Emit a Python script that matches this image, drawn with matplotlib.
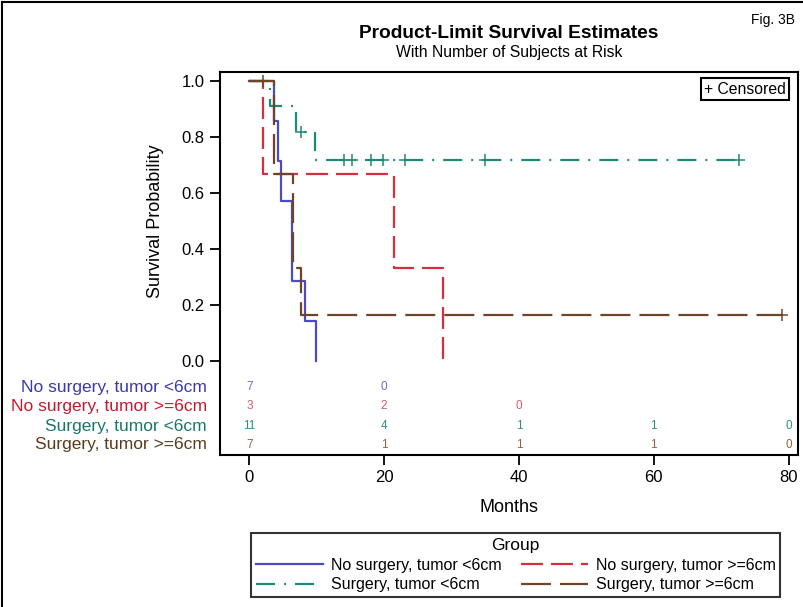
import numpy as np
import matplotlib.pyplot as plt
from matplotlib.lines import Line2D

plt.rcParams['font.family'] = ['Liberation Sans', 'DejaVu Sans']
plt.rcParams['lines.scale_dashes'] = False

W, H = 804, 607

# survival steps (months, survival after step)
blue_t = [0, 3.7, 4.2, 4.7, 6.4, 8.3, 9.85]
blue_s = [1.0, 0.857, 0.714, 0.571, 0.286, 0.143, 0.0]
blue_cens = []

red_t = [0, 2.1, 21.4, 28.7]
red_s = [1.0, 0.667, 0.333, 0.0]
red_cens = []

green_t = [0, 3.1, 6.9, 9.75, 72.6]
green_s = [1.0, 0.909, 0.818, 0.716, 0.716]
green_cens = [7.7, 14.0, 15.3, 18.0, 19.8, 23.1, 34.9, 72.6]

brown_t = [0, 3.6, 6.5, 7.7, 79.0]
brown_s = [1.0, 0.667, 0.333, 0.167, 0.167]
brown_cens = [2.1, 79.0]

groups = ['No surgery, tumor <6cm', 'No surgery, tumor >=6cm',
          'Surgery, tumor <6cm', 'Surgery, tumor >=6cm']
risk_times = [0, 20, 40, 60, 80]
risk_blue = [7, 0, None, None, None]
risk_red = [3, 2, 0, None, None]
risk_green = [11, 4, 1, 1, 0]
risk_brown = [7, 1, 1, 1, 0]

line_cols = ['#4b4bc4', '#d3303f', '#1d8a78', '#6e4526']
label_cols = ['#3a3aa8', '#c8182e', '#17786a', '#5c3a1c']
num_cols = ['#6a6ad0', '#dc5a64', '#2e8f80', '#8a6445']
styles = ['-', (0, (15.8, 5.8)), (0, (13.7, 6.5, 1.4, 6.5)), (0, (21.6, 6.5))]

fig = plt.figure(figsize=(W / 100, H / 100), dpi=100)
ax = fig.add_axes([220 / W, 1 - 455 / H, (798 - 220) / W, (455 - 72) / H])

ax.set_xlim(-4.35, 81.4)
ax.set_ylim(-0.333, 1.031)

curves = [(blue_t, blue_s, blue_cens), (red_t, red_s, red_cens),
          (green_t, green_s, green_cens), (brown_t, brown_s, brown_cens)]
for k, (t, s, c) in enumerate(curves):
    ax.step(t, s, where='post', color=line_cols[k], linestyle=styles[k], lw=1.6)
    if c:
        cy = [s[max(i for i in range(len(t)) if t[i] <= ci)] for ci in c]
        ax.plot(c, cy, '+', color=line_cols[k], ms=8, mew=1.1, ls='none')

# number at risk table
risks = [risk_blue, risk_red, risk_green, risk_brown]
row_y = [-0.091, -0.160, -0.231, -0.296]
for k in range(4):
    for t, n in zip(risk_times, risks[k]):
        if n is not None:
            ax.text(t, row_y[k], str(n), color=num_cols[k], fontsize=8.5,
                    ha='center', va='center')
    ax.text(207 / W, (1 - 455 / H) + (row_y[k] + 0.333) / 1.364 * (383 / H), groups[k],
            transform=fig.transFigure, color=label_cols[k], fontsize=12.5,
            ha='right', va='center')

ax.set_yticks([0, 0.2, 0.4, 0.6, 0.8, 1.0])
ax.set_yticklabels(['0.0', '0.2', '0.4', '0.6', '0.8', '1.0'])
ax.set_xticks(risk_times)
ax.tick_params(direction='out', length=7, width=1.3, labelsize=12, pad=4)
for sp in ax.spines.values():
    sp.set_linewidth(1.5)

fig.text(155 / W, 1 - 221 / H, 'Survival Probability', rotation=90,
         fontsize=13, ha='center', va='center')
fig.text(509 / W, 1 - 508 / H, 'Months', fontsize=13, ha='center', va='center')

fig.text(509 / W, 1 - 33 / H, 'Product-Limit Survival Estimates',
         fontsize=13.8, fontweight='bold', ha='center', va='center')
fig.text(509 / W, 1 - 53 / H, 'With Number of Subjects at Risk',
         fontsize=11.3, ha='center', va='center')
fig.text(795 / W, 1 - 20 / H, 'Fig. 3B', fontsize=10, ha='right', va='center')

fig.text(786 / W, 1 - 89 / H, '+ Censored', fontsize=11.3, ha='right', va='center',
         bbox=dict(boxstyle='square,pad=0.22', fc='white', ec='black', lw=1.5))

handles = [Line2D([], [], color=line_cols[k], linestyle=styles[k], lw=1.6)
           for k in range(4)]
leg = fig.legend([handles[0], handles[2], handles[1], handles[3]],
                 [groups[0], groups[2], groups[1], groups[3]],
                 ncol=2, title='Group', loc='upper left',
                 bbox_to_anchor=(251 / W, 1 - 533 / H), fontsize=11.5,
                 title_fontsize=12.5, frameon=True, fancybox=False,
                 handlelength=4.2, handletextpad=0.5, columnspacing=1.2,
                 borderpad=0.3, labelspacing=0.3, borderaxespad=0)
leg.get_frame().set_edgecolor('black')
leg.get_frame().set_linewidth(1.5)

# outer figure border
fig.add_artist(Line2D([0.002, 0.002], [0, 0.997], color='black', lw=1.5,
                      transform=fig.transFigure))
fig.add_artist(Line2D([0.002, 0.998], [0.997, 0.997], color='black', lw=1.5,
                      transform=fig.transFigure))

fig.savefig('out.png', dpi=100)
